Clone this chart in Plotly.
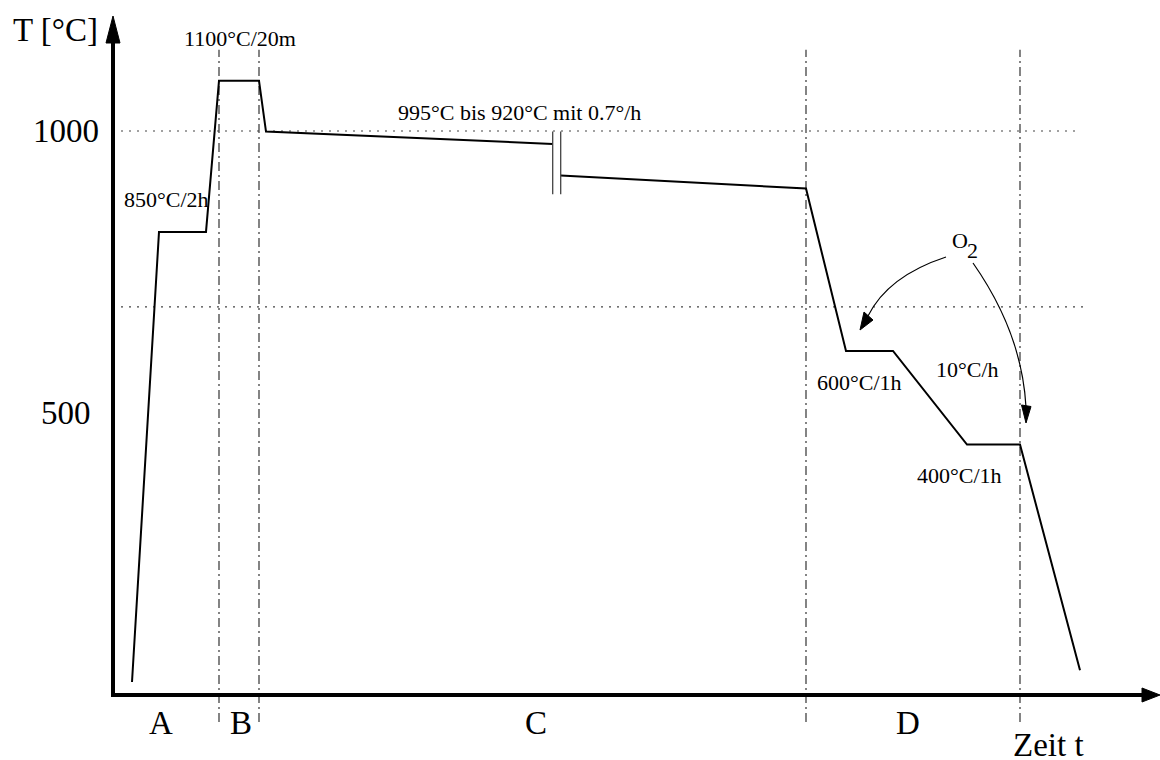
import plotly.graph_objects as go

W, H = 1160, 760
FONT = "Liberation Serif"

# ---------------- data (time in arbitrary units, temperature in °C) ----------------
seg1_t = [1.9, 4.6, 9.3, 10.6, 14.6, 15.3, 43.97]
seg1_T = [23, 821, 821, 1089, 1089, 999, 977]
seg2_t = [44.77, 69.3, 73.3, 78.0, 85.4, 90.7, 96.7]
seg2_T = [921, 898, 610, 610, 444, 444, 44]

phase_bounds_t = [10.6, 14.6, 69.3, 90.7]
phase_labels = ["A", "B", "C", "D"]
phase_label_t = [4.8, 12.8, 42.3, 79.5]

ref_T = [1000, 688]
ref_end_t = [96.5, 97.4]

tick_T = [500, 1000]
tick_labels = ["500", "1000"]

break_t = [43.97, 44.77]
break_T = [888, 999]

step_labels = ["1100°C/20m", "850°C/2h", "995°C bis 920°C mit 0.7°/h",
               "600°C/1h", "10°C/h", "400°C/1h"]

X_RANGE = [-11.3, 104.7]
Y_RANGE = [-115.23, 1232.27]


def P(px, py):
    """pixel position -> paper coordinates (margins are zero)."""
    return px / W, 1 - py / H


fig = go.Figure()

fig.add_trace(go.Scatter(x=seg1_t, y=seg1_T, mode="lines",
                         line=dict(color="black", width=2), hoverinfo="skip"))
fig.add_trace(go.Scatter(x=seg2_t, y=seg2_T, mode="lines",
                         line=dict(color="black", width=2), hoverinfo="skip"))

shapes = []
# dotted reference lines
for T, te in zip(ref_T, ref_end_t):
    shapes.append(dict(type="line", xref="x", yref="y", x0=0, x1=te, y0=T, y1=T,
                       line=dict(color="#444444", width=1.2, dash="2px,6px"), layer="below"))
# dash-dot phase boundaries
for tb in phase_bounds_t:
    shapes.append(dict(type="line", xref="x", yref="y", x0=tb, x1=tb, y0=-48, y1=1144,
                       line=dict(color="#333333", width=1.2, dash="9px,4px,2px,4px"), layer="below"))
# break marks
for tb in break_t:
    shapes.append(dict(type="line", xref="x", yref="y", x0=tb, x1=tb,
                       y0=break_T[0], y1=break_T[1],
                       line=dict(color="#444444", width=1.3)))


def seg(p, q, w, color="black"):
    a, b = P(*p), P(*q)
    return dict(type="line", xref="paper", yref="paper", x0=a[0], y0=a[1], x1=b[0], y1=b[1],
                line=dict(color=color, width=w))


def tri(pts, color="black"):
    pp = [P(*p) for p in pts]
    path = "M {} {} L {} {} L {} {} Z".format(pp[0][0], pp[0][1], pp[1][0], pp[1][1], pp[2][0], pp[2][1])
    return dict(type="path", xref="paper", yref="paper", path=path,
                fillcolor=color, line=dict(color=color, width=1))


def qcurve(p0, c, p2, w=1.2):
    a, b, d = P(*p0), P(*c), P(*p2)
    path = "M {} {} Q {} {} {} {}".format(a[0], a[1], b[0], b[1], d[0], d[1])
    return dict(type="path", xref="paper", yref="paper", path=path,
                line=dict(color="black", width=w))


# axes (thick lines + arrowheads)
shapes.append(seg((113, 697), (113, 40), 4))
shapes.append(seg((111, 695), (1144, 695), 4))
shapes.append(tri([(113, 16), (106, 43), (120, 43)]))
shapes.append(tri([(1160, 695), (1142, 688), (1142, 702)]))

# O2 curved arrows
shapes.append(qcurve((946, 257), (888, 276), (868, 316)))
shapes.append(tri([(860, 330), (864, 312), (873, 320)]))
shapes.append(qcurve((973, 263), (1022, 333), (1026, 407)))
shapes.append(tri([(1026, 423), (1021.5, 405), (1031, 406.5)]))

annotations = []


def txt(text, px, py, size, xanchor="center"):
    x, y = P(px, py)
    annotations.append(dict(text=text, x=x, y=y, xref="paper", yref="paper",
                            xanchor=xanchor, yanchor="middle", showarrow=False,
                            font=dict(family=FONT, size=size, color="black")))


# step labels
step_pos = [(240, 38), (166, 200), (519, 112), (859, 383), (967, 369), (959, 476)]
for s, (px, py) in zip(step_labels, step_pos):
    txt(s, px, py, 22)

txt("O", 959.5, 240, 22)
txt("2", 972.5, 250, 22)
txt("T [°C]", 55, 30, 33)
txt("Zeit t", 1048, 745, 33)

# tick labels (data coordinates on the temperature scale)
for T, lab in zip(tick_T, tick_labels):
    annotations.append(dict(text=lab, x=-4.7, y=T, xref="x", yref="y",
                            xanchor="center", yanchor="middle", showarrow=False,
                            font=dict(family=FONT, size=33, color="black")))
# phase labels
for lab, t in zip(phase_labels, phase_label_t):
    annotations.append(dict(text=lab, x=t, y=-50, xref="x", yref="y",
                            xanchor="center", yanchor="middle", showarrow=False,
                            font=dict(family=FONT, size=33, color="black")))

fig.update_layout(
    width=W, height=H,
    margin=dict(l=0, r=0, t=0, b=0),
    paper_bgcolor="white", plot_bgcolor="white",
    showlegend=False,
    xaxis=dict(range=X_RANGE, visible=False, fixedrange=True),
    yaxis=dict(range=Y_RANGE, visible=False, fixedrange=True),
    shapes=shapes, annotations=annotations,
    font=dict(family=FONT),
)

fig.write_html("out.html", config={"displayModeBar": False},
               post_script="document.body.style.margin='0';document.body.style.overflow='hidden';")
